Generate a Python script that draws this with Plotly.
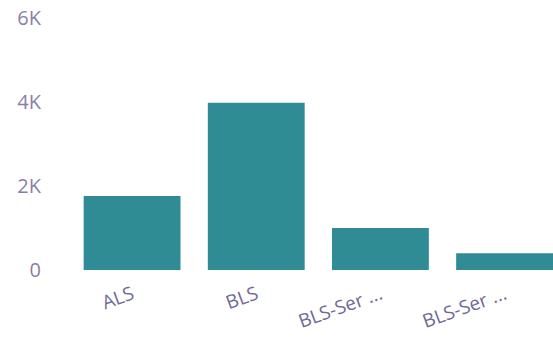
import plotly.graph_objects as go

# Category positions, labels and totals
positions = [0, 1, 2, 3]
tick_labels = ["ALS", "BLS", "BLS-Ser ...", "BLS-Ser ..."]
values = [1760, 3980, 1000, 400]

y_ticks = [0, 2000, 4000, 6000]
y_tick_labels = ["0", "2K", "4K", "6K"]

bar_color = "#2f8c95"
y_label_color = "#8a7fa6"
x_label_color = "#6f6b99"

fig = go.Figure(
    go.Bar(
        x=positions,
        y=values,
        width=0.78,
        marker=dict(color=bar_color, line=dict(width=0)),
    )
)

fig.update_layout(
    width=553,
    height=342,
    margin=dict(l=70, r=0, t=18, b=72),
    paper_bgcolor="white",
    plot_bgcolor="white",
    showlegend=False,
    font=dict(family="Open Sans", color=y_label_color),
)

fig.update_xaxes(
    range=[-0.5, 3.39],
    tickvals=positions,
    ticktext=tick_labels,
    tickangle=-20,
    tickfont=dict(size=19, color=x_label_color),
    showgrid=False,
    zeroline=False,
    showline=False,
    ticks="",
    ticklabelstandoff=9,
)

fig.update_yaxes(
    range=[0, 6000],
    tickvals=y_ticks,
    ticktext=y_tick_labels,
    tickfont=dict(size=20, color=y_label_color),
    showgrid=False,
    zeroline=False,
    showline=False,
    ticks="",
    ticklabelstandoff=28,
)

fig.write_html("out.html")
